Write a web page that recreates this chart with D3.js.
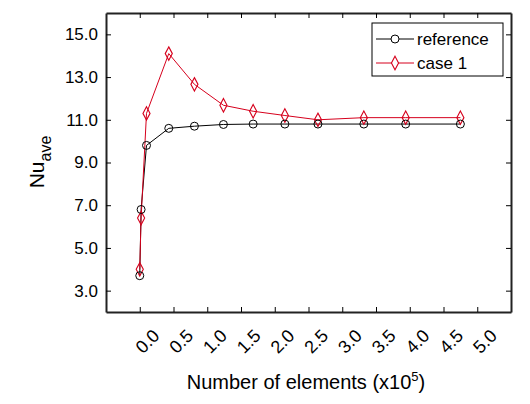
<!DOCTYPE html>
<html><head><meta charset="utf-8">
<script src="https://cdn.jsdelivr.net/npm/d3@7"></script>
<style>body{margin:0;background:#fff}text{font-family:"Liberation Sans",Arial,sans-serif}</style>
</head><body><svg width="530" height="404"></svg>
<script>
// data
var xVals = [0.0, 0.02, 0.10, 0.43, 0.81, 1.24, 1.68, 2.15, 2.64, 3.32, 3.94, 4.75];
var refVals = [3.7, 6.8, 9.8, 10.6, 10.7, 10.78, 10.8, 10.8, 10.8, 10.8, 10.8, 10.8];
var case1Vals = [4.0, 6.4, 11.3, 14.1, 12.66, 11.68, 11.4, 11.2, 11.0, 11.1, 11.1, 11.1];
var xTicks = [0, 0.5, 1, 1.5, 2, 2.5, 3, 3.5, 4, 4.5, 5];
var yTicks = [3, 5, 7, 9, 11, 13, 15];

var svg = d3.select("svg"),
    L = 106, R = 511, T = 13, B = 312;

var x = d3.scaleLinear().domain([-0.5, 5.5]).range([L, R]);
var y = d3.scaleLinear().domain([2, 16]).range([B, T]);

// axes (ticks inward, mirrored)
svg.append("g").attr("transform", "translate(0," + B + ")")
    .call(d3.axisBottom(x).tickValues(xTicks).tickSizeInner(-5).tickSizeOuter(0).tickFormat(""));
svg.append("g").attr("transform", "translate(0," + T + ")")
    .call(d3.axisTop(x).tickValues(xTicks).tickSizeInner(-5).tickSizeOuter(0).tickFormat(""));
svg.append("g").attr("transform", "translate(" + L + ",0)")
    .call(d3.axisLeft(y).tickValues(yTicks).tickSizeInner(-5).tickSizeOuter(0).tickFormat(d3.format(".1f")))
    .selectAll("text").attr("x", -8).style("font-size", "17px").attr("fill", "#000");
svg.append("g").attr("transform", "translate(" + R + ",0)")
    .call(d3.axisRight(y).tickValues(yTicks).tickSizeInner(-5).tickSizeOuter(0).tickFormat(""));
svg.selectAll(".domain").attr("stroke", "#222").attr("stroke-width", 2);

// rotated x labels
svg.append("g").selectAll("text").data(xTicks).join("text")
    .attr("transform", function(d) { return "translate(" + (x(d) + 12) + "," + (B + 16) + ") rotate(-45)"; })
    .attr("text-anchor", "end").attr("dy", "0.7em")
    .style("font-size", "18px")
    .text(function(d) { return d.toFixed(1); });

// axis titles
svg.append("text").attr("x", 306).attr("y", 389).attr("text-anchor", "middle").style("font-size", "20px")
    .html('Number of elements (x10<tspan dy="-8" font-size="13px">5</tspan><tspan dy="8">)</tspan>');
svg.append("text").attr("transform", "translate(44,162) rotate(-90)").attr("text-anchor", "middle").style("font-size", "21px")
    .html('Nu<tspan dy="7" font-size="16px">ave</tspan>');

var line = d3.line().x(function(d) { return x(d[0]); }).y(function(d) { return y(d[1]); });
var refPts = xVals.map(function(v, i) { return [v, refVals[i]]; });
var casePts = xVals.map(function(v, i) { return [v, case1Vals[i]]; });

svg.append("path").datum(refPts).attr("d", line).attr("fill", "none").attr("stroke", "#000").attr("stroke-width", 1);
svg.append("path").datum(casePts).attr("d", line).attr("fill", "none").attr("stroke", "#d6001c").attr("stroke-width", 1);

var diamond = d3.symbol().type(d3.symbolDiamond).size(36);
svg.append("g").selectAll("path").data(casePts).join("path")
    .attr("transform", function(d) { return "translate(" + x(d[0]) + "," + y(d[1]) + ") scale(1.1,1.2)"; })
    .attr("d", diamond).attr("fill", "none").attr("stroke", "#d6001c");
svg.append("g").selectAll("circle").data(refPts).join("circle")
    .attr("cx", function(d) { return x(d[0]); }).attr("cy", function(d) { return y(d[1]); })
    .attr("r", 4).attr("fill", "none").attr("stroke", "#000");

// legend
var lg = svg.append("g").attr("transform", "translate(372,23)");
lg.append("rect").attr("width", 131).attr("height", 53).attr("fill", "#fff").attr("stroke", "#000");
[["reference", "#000", "c"], ["case 1", "#d6001c", "d"]].forEach(function(e, i) {
  var yy = 16 + i * 24;
  lg.append("line").attr("x1", 4).attr("x2", 42).attr("y1", yy).attr("y2", yy).attr("stroke", e[1]);
  if (e[2] === "c") lg.append("circle").attr("cx", 23).attr("cy", yy).attr("r", 4).attr("fill", "#fff").attr("stroke", e[1]);
  else lg.append("path").attr("d", diamond).attr("transform", "translate(23," + yy + ") scale(1.1,1.2)").attr("fill", "#fff").attr("stroke", e[1]);
  lg.append("text").attr("x", 45).attr("y", yy + 6).style("font-size", "17px").text(e[0]);
});
</script></body></html>
